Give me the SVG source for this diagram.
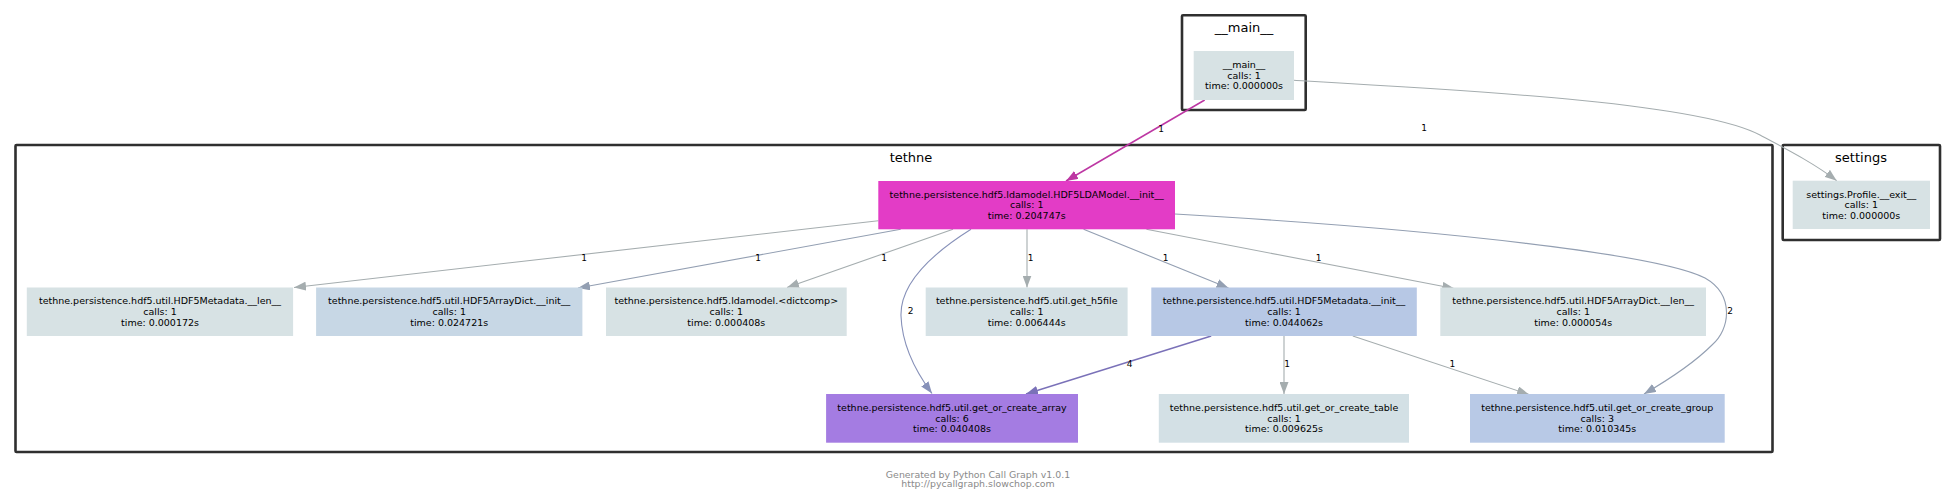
<svg xmlns="http://www.w3.org/2000/svg" width="1956" height="501" viewBox="0 0 1956 501">
<style>
  .cluster { fill: none; stroke: #2f2f2f; stroke-width: 2.6; }
  .ctitle { font-family: "DejaVu Sans", Verdana, sans-serif; font-size: 13px; fill: #000; text-anchor: middle; }
  .ntext { font-family: "DejaVu Sans", Verdana, sans-serif; font-size: 9.5px; fill: #000; text-anchor: middle; }
  .elabel { font-family: "DejaVu Sans", Verdana, sans-serif; font-size: 9px; fill: #000; text-anchor: middle; }
  .footer { font-family: "DejaVu Sans", Verdana, sans-serif; font-size: 9.4px; fill: #8a8a8a; text-anchor: middle; }
  .e { fill: none; stroke-width: 1.1; }
  .gray { stroke: #a5adaf; }
  .bgray { stroke: #939fb2; }
  .blue { stroke: #8791b9; }
  .purple { stroke: #7a71b8; stroke-width: 1.4; }
  .mag { stroke: #bd37a3; stroke-width: 1.5; }
</style>
<defs>
  <marker id="a-gray" viewBox="0 0 12 9" markerUnits="userSpaceOnUse" markerWidth="12" markerHeight="9" refX="12" refY="4.5" orient="auto"><path d="M0,0 L12,4.5 L0,9 z" fill="#a5adaf"/></marker>
  <marker id="a-bgray" viewBox="0 0 12 9" markerUnits="userSpaceOnUse" markerWidth="12" markerHeight="9" refX="12" refY="4.5" orient="auto"><path d="M0,0 L12,4.5 L0,9 z" fill="#939fb2"/></marker>
  <marker id="a-blue" viewBox="0 0 12 9" markerUnits="userSpaceOnUse" markerWidth="12" markerHeight="9" refX="12" refY="4.5" orient="auto"><path d="M0,0 L12,4.5 L0,9 z" fill="#8791b9"/></marker>
  <marker id="a-purple" viewBox="0 0 12 9" markerUnits="userSpaceOnUse" markerWidth="12" markerHeight="9" refX="12" refY="4.5" orient="auto"><path d="M0,0 L12,4.5 L0,9 z" fill="#7a71b8"/></marker>
  <marker id="a-mag" viewBox="0 0 12 9" markerUnits="userSpaceOnUse" markerWidth="12" markerHeight="9" refX="12" refY="4.5" orient="auto"><path d="M0,0 L12,4.5 L0,9 z" fill="#bd37a3"/></marker>
</defs>
<rect width="1956" height="501" fill="#ffffff"/>

<!-- clusters -->
<g id="cluster-main">
  <rect class="cluster" x="1182" y="15.3" width="123.7" height="94.7" rx="1"/>
  <text class="ctitle" x="1244" y="32">__main__</text>
</g>
<g id="cluster-tethne">
  <rect class="cluster" x="15.5" y="145" width="1757" height="307" rx="1"/>
  <text class="ctitle" x="911" y="161.5">tethne</text>
</g>
<g id="cluster-settings">
  <rect class="cluster" x="1782.7" y="145" width="157.3" height="95" rx="1"/>
  <text class="ctitle" x="1861" y="161.5">settings</text>
</g>

<!-- connectors -->
<g id="connectors">
  <path class="e mag" d="M1204.7,100 L1066,181" marker-end="url(#a-mag)"/>
  <path class="e gray" d="M1294,80.3 C1480,91 1700,103 1760,135 C1790,151 1815,164 1836.7,180.7" marker-end="url(#a-gray)"/>
  <path class="e gray" d="M878.3,220.7 L294,287.5" marker-end="url(#a-gray)"/>
  <path class="e bgray" d="M900.7,229.3 L578,288" marker-end="url(#a-bgray)"/>
  <path class="e gray" d="M953,229.3 L787,287.5" marker-end="url(#a-gray)"/>
  <path class="e blue" d="M971,229.3 C930,255 900,285 901,316 C902,345 916,372 932,393.5" marker-end="url(#a-blue)"/>
  <path class="e gray" d="M1027,229.3 L1027,287.5" marker-end="url(#a-gray)"/>
  <path class="e bgray" d="M1083.6,229.3 L1228.5,288" marker-end="url(#a-bgray)"/>
  <path class="e gray" d="M1146.4,229.3 L1454.2,288.5" marker-end="url(#a-gray)"/>
  <path class="e bgray" d="M1175,214 C1450,230 1660,255 1705,278 C1735,295 1730,330 1712,345 C1695,362 1668,380 1644,394" marker-end="url(#a-bgray)"/>
  <path class="e purple" d="M1211.2,336 L1026,394" marker-end="url(#a-purple)"/>
  <path class="e gray" d="M1284,336 L1284,394" marker-end="url(#a-gray)"/>
  <path class="e gray" d="M1352.8,336 L1529,394.5" marker-end="url(#a-gray)"/>

  <text class="elabel" x="1161" y="131.5">1</text>
  <text class="elabel" x="1424" y="130.5">1</text>
  <text class="elabel" x="584" y="261">1</text>
  <text class="elabel" x="758" y="261">1</text>
  <text class="elabel" x="884" y="261">1</text>
  <text class="elabel" x="910.5" y="314">2</text>
  <text class="elabel" x="1030.5" y="261">1</text>
  <text class="elabel" x="1165.5" y="261">1</text>
  <text class="elabel" x="1318.5" y="261">1</text>
  <text class="elabel" x="1730" y="314">2</text>
  <text class="elabel" x="1129.5" y="367">4</text>
  <text class="elabel" x="1287" y="367">1</text>
  <text class="elabel" x="1452.3" y="367">1</text>
</g>

<!-- nodes -->
<g id="node-main">
  <rect x="1193.7" y="51" width="100.3" height="49" fill="#d7e2e4"/>
  <text class="ntext" x="1244" y="68">__main__</text>
  <text class="ntext" x="1244" y="78.7">calls: 1</text>
  <text class="ntext" x="1244" y="89.4">time: 0.000000s</text>
</g>
<g id="node-settings">
  <rect x="1792.7" y="180.7" width="137.3" height="48.3" fill="#d7e2e4"/>
  <text class="ntext" x="1861.3" y="197.5">settings.Profile.__exit__</text>
  <text class="ntext" x="1861.3" y="208.2">calls: 1</text>
  <text class="ntext" x="1861.3" y="218.9">time: 0.000000s</text>
</g>
<g id="node-lda">
  <rect x="878.3" y="181" width="296.7" height="48.3" fill="#e33cc6"/>
  <text class="ntext" x="1026.7" y="197.5">tethne.persistence.hdf5.ldamodel.HDF5LDAModel.__init__</text>
  <text class="ntext" x="1026.7" y="208.2">calls: 1</text>
  <text class="ntext" x="1026.7" y="218.9">time: 0.204747s</text>
</g>
<g id="node-metadata-len">
  <rect x="26.8" y="287.5" width="266.3" height="48.5" fill="#d7e2e4"/>
  <text class="ntext" x="160" y="304.2">tethne.persistence.hdf5.util.HDF5Metadata.__len__</text>
  <text class="ntext" x="160" y="314.9">calls: 1</text>
  <text class="ntext" x="160" y="325.6">time: 0.000172s</text>
</g>
<g id="node-arraydict-init">
  <rect x="316.1" y="287.5" width="266.3" height="48.5" fill="#c7d7e5"/>
  <text class="ntext" x="449.2" y="304.2">tethne.persistence.hdf5.util.HDF5ArrayDict.__init__</text>
  <text class="ntext" x="449.2" y="314.9">calls: 1</text>
  <text class="ntext" x="449.2" y="325.6">time: 0.024721s</text>
</g>
<g id="node-dictcomp">
  <rect x="606" y="287.5" width="240.7" height="48.5" fill="#d7e2e4"/>
  <text class="ntext" x="726.3" y="304.2">tethne.persistence.hdf5.ldamodel.&lt;dictcomp&gt;</text>
  <text class="ntext" x="726.3" y="314.9">calls: 1</text>
  <text class="ntext" x="726.3" y="325.6">time: 0.000408s</text>
</g>
<g id="node-get-h5file">
  <rect x="925.7" y="287.5" width="201.9" height="48.5" fill="#d5e1e5"/>
  <text class="ntext" x="1026.7" y="304.2">tethne.persistence.hdf5.util.get_h5file</text>
  <text class="ntext" x="1026.7" y="314.9">calls: 1</text>
  <text class="ntext" x="1026.7" y="325.6">time: 0.006444s</text>
</g>
<g id="node-metadata-init">
  <rect x="1151.3" y="287.5" width="265.5" height="48.5" fill="#b7c8e5"/>
  <text class="ntext" x="1284" y="304.2">tethne.persistence.hdf5.util.HDF5Metadata.__init__</text>
  <text class="ntext" x="1284" y="314.9">calls: 1</text>
  <text class="ntext" x="1284" y="325.6">time: 0.044062s</text>
</g>
<g id="node-arraydict-len">
  <rect x="1440.3" y="287.5" width="265.7" height="48.5" fill="#d7e2e4"/>
  <text class="ntext" x="1573.2" y="304.2">tethne.persistence.hdf5.util.HDF5ArrayDict.__len__</text>
  <text class="ntext" x="1573.2" y="314.9">calls: 1</text>
  <text class="ntext" x="1573.2" y="325.6">time: 0.000054s</text>
</g>
<g id="node-get-or-create-array">
  <rect x="826.1" y="394" width="251.9" height="48.7" fill="#a47ce2"/>
  <text class="ntext" x="952" y="411">tethne.persistence.hdf5.util.get_or_create_array</text>
  <text class="ntext" x="952" y="421.7">calls: 6</text>
  <text class="ntext" x="952" y="432.4">time: 0.040408s</text>
</g>
<g id="node-get-or-create-table">
  <rect x="1158.8" y="394" width="250.2" height="48.7" fill="#d3e0e5"/>
  <text class="ntext" x="1284" y="411">tethne.persistence.hdf5.util.get_or_create_table</text>
  <text class="ntext" x="1284" y="421.7">calls: 1</text>
  <text class="ntext" x="1284" y="432.4">time: 0.009625s</text>
</g>
<g id="node-get-or-create-group">
  <rect x="1470" y="394" width="254.7" height="48.7" fill="#b8c9e6"/>
  <text class="ntext" x="1597.3" y="411">tethne.persistence.hdf5.util.get_or_create_group</text>
  <text class="ntext" x="1597.3" y="421.7">calls: 3</text>
  <text class="ntext" x="1597.3" y="432.4">time: 0.010345s</text>
</g>

<g id="footer">
  <text class="footer" x="978" y="477.5">Generated by Python Call Graph v1.0.1</text>
  <text class="footer" x="978" y="487">http://pycallgraph.slowchop.com</text>
</g>
</svg>
